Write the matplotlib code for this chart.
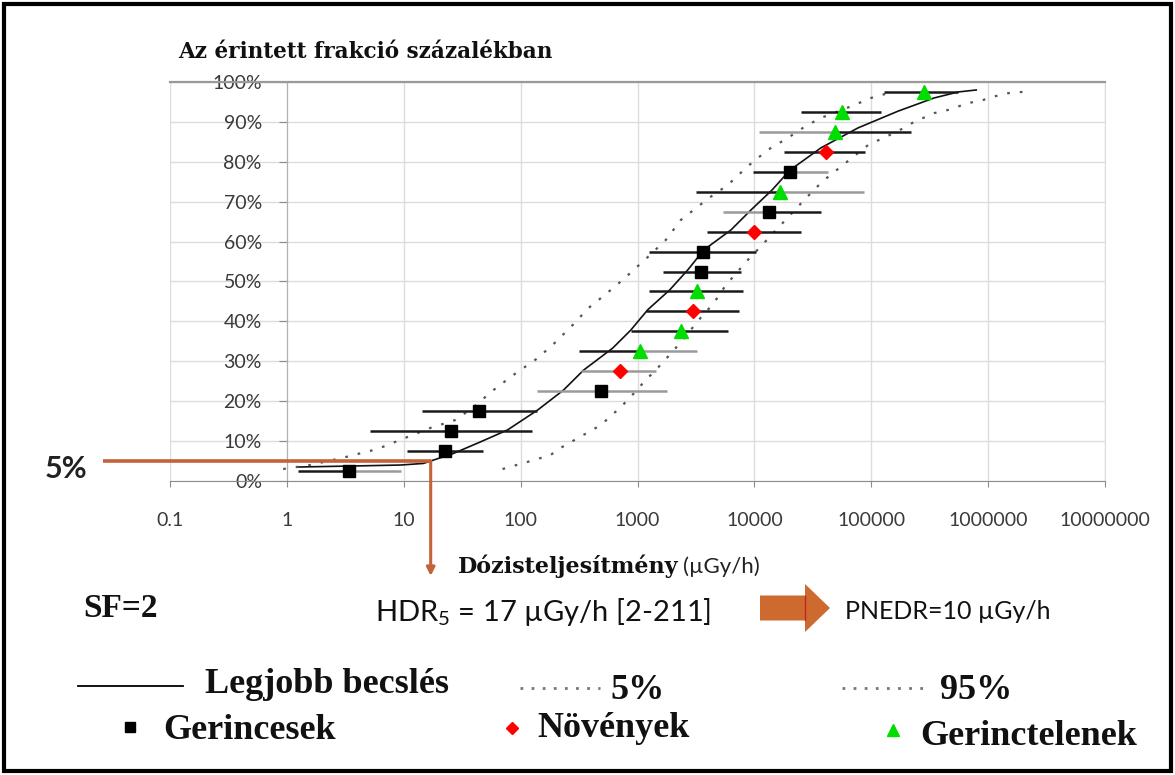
import matplotlib
matplotlib.use("Agg")
import matplotlib.pyplot as plt
from matplotlib.lines import Line2D
from matplotlib.patches import Rectangle, FancyArrow

plt.rcParams['mathtext.fontset'] = 'custom'
plt.rcParams['mathtext.rm'] = 'Lato'

# ---- data -------------------------------------------------------------
x_ticks = [0.1, 1, 10, 100, 1000, 10000, 100000, 1000000, 10000000]
x_tick_labels = ['0.1', '1', '10', '100', '1000', '10000', '100000', '1000000', '10000000']
y_ticks = [0, 10, 20, 30, 40, 50, 60, 70, 80, 90, 100]
y_tick_labels = ['0%', '10%', '20%', '30%', '40%', '50%', '60%', '70%', '80%', '90%', '100%']

# Gerincesek (vertebrates): HDR estimate with uncertainty range
vert_x = [3.4, 22.7, 25.4, 44.4, 484, 3480, 3670, 13390, 20270]
vert_y = [2.5, 7.5, 12.5, 17.5, 22.5, 52.5, 57.5, 67.5, 77.5]
vert_lo = [1.25, 10.7, 5.17, 14.4, 139, 1667, 1255, 5340, 9650]
vert_hi = [9.4, 47.2, 126, 139, 1803, 7660, 10300, 37150, 42400]

# Növények (plants)
plant_x = [708, 2990, 9840, 41000]
plant_y = [27.5, 42.5, 62.5, 82.5]
plant_lo = [326, 1175, 3970, 18000]
plant_hi = [1432, 7413, 25000, 88500]

# Gerinctelenek (invertebrates)
invert_x = [1045, 2344, 3260, 16630, 49000, 55900, 281700]
invert_y = [32.5, 37.5, 47.5, 72.5, 87.5, 92.5, 97.5]
invert_lo = [315, 875, 1255, 3155, 11000, 25000, 129500]
invert_hi = [3260, 5890, 7925, 87300, 219000, 121300, 551000]

# Fitted species sensitivity distribution and its 5% / 95% bounds
best_x = [1.22, 4.25, 9.35, 14.7, 26.6, 45.3, 77.3, 140, 233, 346, 613, 875, 1222,
          1888, 2692, 3690, 6295, 9330, 14130, 20140, 37150, 77100, 169800,
          345000, 554000, 791000]
best_y = [3.5, 3.8, 4.0, 4.4, 6.9, 9.8, 12.8, 17.8, 22.8, 27.8, 33.3, 37.8, 42.9,
          47.9, 52.9, 57.9, 62.9, 67.9, 72.9, 77.9, 83.5, 88.5, 92.7, 96.0, 97.5, 98.0]

lower5_x = [0.93, 1.58, 2.98, 5.94, 10.7, 16.9, 27.7, 39.5, 58.6, 86.9, 140, 199, 279,
            382, 524, 747, 1222, 1745, 2344, 4074, 5929, 8790, 13060, 19360, 27610,
            37150, 71290, 99600, 139300]
lower5_y = [3.0, 4.0, 5.8, 8.0, 11.0, 13.3, 15.3, 18.5, 22.8, 26.6, 30.8, 34.8, 39.1,
            43.4, 46.6, 50.4, 56.1, 60.4, 65.4, 70.9, 74.2, 78.9, 83.0, 86.0, 89.0,
            91.0, 94.2, 96.0, 97.2]

upper95_x = [70, 115, 180, 220, 484, 718, 875, 1175, 1432, 1815, 2438, 3281, 4498, 5701,
             8790, 12050, 16870, 27610, 38640, 57280, 93970, 169800, 232800, 345000,
             455000, 675000, 908000, 1172000, 1486000, 2339000]
upper95_y = [3.0, 4.8, 6.5, 8.3, 14.0, 18.5, 21.1, 25.3, 27.8, 31.1, 35.3, 40.1, 44.6,
             49.1, 55.4, 59.6, 64.2, 70.9, 75.2, 79.2, 84.2, 87.7, 90.0, 92.2, 93.0,
             94.7, 95.5, 96.5, 97.2, 97.7]

hdr5 = 17          # µGy/h
hdr5_level = 5     # %

# ---- styles -----------------------------------------------------------
DARK = '#1a1a1a'
GREY = '#9a9a9a'
vert_bar_left = [DARK, DARK, DARK, DARK, GREY, DARK, DARK, GREY, DARK]
vert_bar_right = [GREY, DARK, DARK, DARK, GREY, DARK, DARK, DARK, GREY]
plant_bar_left = [GREY, DARK, DARK, DARK]
plant_bar_right = [GREY, DARK, DARK, DARK]
invert_bar_left = [DARK, DARK, DARK, DARK, GREY, DARK, DARK]
invert_bar_right = [GREY, DARK, DARK, GREY, DARK, DARK, DARK]

RUST = '#c4623a'
W, H = 1175, 775


def fx(px):
    return px / W


def fy(py):
    return 1 - py / H


fig = plt.figure(figsize=(W / 100, H / 100), dpi=100)
ax = fig.add_axes([fx(170), fy(481), (1105 - 170) / W, (481 - 82) / H])

ax.set_xscale('log')
ax.set_xlim(0.1, 1e7)
ax.set_ylim(0, 100)

ax.grid(True, which='major', color='#dcdcdc', lw=1.0)
ax.set_axisbelow(True)
ax.xaxis.set_major_locator(matplotlib.ticker.FixedLocator(x_ticks))
ax.xaxis.set_major_formatter(matplotlib.ticker.FixedFormatter(x_tick_labels))
ax.xaxis.set_minor_locator(matplotlib.ticker.NullLocator())
ax.set_yticks(y_ticks)
ax.set_yticklabels(y_tick_labels)

ax.spines['right'].set_color('#dcdcdc')
ax.spines['top'].set_color('#9a9a9a')
ax.spines['top'].set_linewidth(1.6)
ax.spines['bottom'].set_color('#8c8c8c')
ax.spines['left'].set_position(('data', 1))
ax.spines['left'].set_color('#b0b0b0')

ax.tick_params(axis='x', direction='out', length=4, color='#8c8c8c', pad=18,
               labelsize=14, labelcolor='#3a3a3a')
ax.tick_params(axis='y', direction='out', length=6, color='#8c8c8c', pad=12,
               labelsize=14, labelcolor='#3a3a3a')
for lab in ax.get_xticklabels() + ax.get_yticklabels():
    lab.set_fontfamily('Lato')

# curves
ax.plot(best_x, best_y, color='#111111', lw=1.2, zorder=3)
ax.plot(lower5_x, lower5_y, color='#555555', lw=1.6, ls=(0, (1.2, 4.5)), zorder=3)
ax.plot(upper95_x, upper95_y, color='#555555', lw=1.6, ls=(0, (1.2, 4.5)), zorder=3)


def draw_group(xs, ys, los, his, lcols, rcols, marker, color, ms):
    for x, y, lo, hi, lc, rc in zip(xs, ys, los, his, lcols, rcols):
        ax.plot([lo, x], [y, y], color=lc, lw=1.8, zorder=4, solid_capstyle='butt')
        ax.plot([x, hi], [y, y], color=rc, lw=1.8, zorder=4, solid_capstyle='butt')
    ax.plot(xs, ys, ls='none', marker=marker, color=color, ms=ms, mec=color, zorder=5)


draw_group(vert_x, vert_y, vert_lo, vert_hi, vert_bar_left, vert_bar_right, 's', 'black', 8.5)
draw_group(plant_x, plant_y, plant_lo, plant_hi, plant_bar_left, plant_bar_right, 'D', '#ff0000', 7.5)
draw_group(invert_x, invert_y, invert_lo, invert_hi, invert_bar_left, invert_bar_right, '^', '#00dd00', 10)

# HDR5 read-off lines
ax.plot([0.0267, hdr5], [hdr5_level, hdr5_level], color=RUST, lw=2.6, clip_on=False, zorder=6,
        solid_capstyle='butt')
ax.annotate('', xy=(hdr5, -23.8), xytext=(hdr5, hdr5_level), xycoords='data',
            arrowprops=dict(arrowstyle='-|>', color=RUST, lw=2.2, mutation_scale=12,
                            shrinkA=0, shrinkB=0),
            annotation_clip=False, zorder=6)

# ---- texts ------------------------------------------------------------
fig.text(fx(178), fy(58), 'Az érintett frakció százalékban', family='DejaVu Serif',
         weight='bold', fontsize=15.5, color='#111111', va='baseline')
fig.text(fx(45), fy(478), '5%', family='Lato', weight='bold', fontsize=22,
         ha='left', va='baseline', color='#222222')
fig.text(fx(458), fy(573), 'Dózisteljesítmény', family='DejaVu Serif', weight='bold',
         fontsize=16, color='#111111', va='baseline')
fig.text(fx(683), fy(573), '(µGy/h)', family='Lato', fontsize=16, color='#222222',
         va='baseline')

fig.text(fx(83), fy(617), 'SF=2', family='Liberation Serif', weight='bold', fontsize=24,
         color='#111111', va='baseline')
fig.text(fx(375), fy(621), r'$\mathregular{HDR_5}$ = 17 µGy/h [2-211]', family='Lato',
         fontsize=21, color='#111111', va='baseline')
fig.text(fx(845), fy(619), 'PNEDR=10 µGy/h', family='Lato', fontsize=18,
         color='#111111', va='baseline')

fig.add_artist(FancyArrow(fx(760), fy(608), fx(805) - fx(760), 0,
                          width=(620 - 595) / H, head_width=(632 - 584) / H,
                          head_length=fx(830) - fx(805), length_includes_head=False,
                          transform=fig.transFigure, color='#cc6a30', lw=0))
fig.add_artist(Line2D([fx(805), fx(805)], [fy(596), fy(620)], transform=fig.transFigure,
                      color='#d02020', lw=1))

# legend
fig.add_artist(Line2D([fx(78), fx(183)], [fy(686), fy(686)], transform=fig.transFigure,
                      color='black', lw=1.3))
fig.add_artist(Line2D([fx(520), fx(600)], [fy(688), fy(688)], transform=fig.transFigure,
                      color='#777777', lw=2.0, ls=(0, (1, 3))))
fig.add_artist(Line2D([fx(842), fx(930)], [fy(688), fy(688)], transform=fig.transFigure,
                      color='#777777', lw=2.0, ls=(0, (1, 3))))
fig.add_artist(Line2D([fx(130)], [fy(727)], transform=fig.transFigure, marker='s',
                      color='black', ms=7, ls='none'))
fig.add_artist(Line2D([fx(512)], [fy(728)], transform=fig.transFigure, marker='D',
                      color='#ff0000', ms=6, ls='none'))
fig.add_artist(Line2D([fx(893)], [fy(730)], transform=fig.transFigure, marker='^',
                      color='#00dd00', ms=8, ls='none'))

legend_font = dict(family='Liberation Serif', weight='bold', fontsize=26, color='#111111',
                   va='baseline')
fig.text(fx(205), fy(693), 'Legjobb becslés', **legend_font)
fig.text(fx(610), fy(699), '5%', **legend_font)
fig.text(fx(940), fy(699), '95%', **legend_font)
fig.text(fx(163), fy(739), 'Gerincesek', **legend_font)
fig.text(fx(537), fy(737), 'Növények', **legend_font)
fig.text(fx(920), fy(745), 'Gerinctelenek', **legend_font)

# outer frame
fig.add_artist(Rectangle((fx(4), fy(771)), fx(1167), (771 - 4) / H, transform=fig.transFigure,
                         fill=False, edgecolor='black', lw=3))

fig.savefig('out.png', dpi=100)
